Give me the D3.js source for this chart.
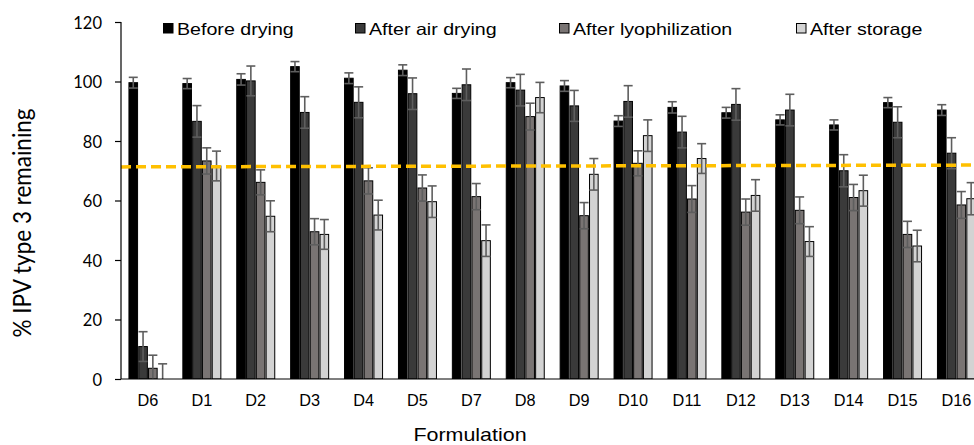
<!DOCTYPE html>
<html>
<head>
<meta charset="utf-8">
<script src="https://cdn.jsdelivr.net/npm/d3@7"></script>
<style>
  html, body { margin: 0; padding: 0; background: #fff; }
  svg { display: block; }
</style>
</head>
<body>
<svg id="chart" width="974" height="445"></svg>
<script>
// Formulations along the x axis
const categories = ["D6", "D1", "D2", "D3", "D4", "D5", "D7", "D8", "D9", "D10", "D11", "D12", "D13", "D14", "D15", "D16"];

// % IPV type 3 remaining at each stage
const beforeDrying       = [99.6, 99.3, 100.7, 105.0, 101.1, 103.8, 96.0, 99.6, 98.5, 86.7, 91.3, 89.5, 87.1, 85.4, 92.9, 90.4];
const afterAirDrying     = [10.9, 86.6, 100.2, 89.6, 93.0, 95.9, 98.9, 97.1, 91.8, 93.3, 83.0, 92.3, 90.4, 70.0, 86.3, 75.9];
const afterLyophilization = [3.6, 73.3, 66.1, 49.5, 66.6, 64.2, 61.3, 88.2, 54.9, 72.5, 60.5, 56.1, 56.7, 61.0, 48.6, 58.5];
const afterStorage       = [0, 71.6, 54.7, 48.6, 55.1, 59.6, 46.5, 94.6, 68.8, 81.8, 74.1, 61.7, 46.2, 63.3, 44.7, 60.6];

// Error bar half-widths (same units)
const errBefore  = [1.8, 1.7, 1.9, 1.7, 1.8, 1.8, 1.7, 1.7, 1.8, 1.8, 1.9, 1.8, 1.7, 1.7, 1.7, 1.8];
const errAir     = [5.0, 5.3, 5.0, 5.3, 5.2, 5.3, 5.3, 5.3, 5.2, 5.3, 5.3, 5.3, 5.3, 5.4, 5.2, 5.2];
const errLyo     = [4.4, 4.4, 4.2, 4.4, 4.4, 4.4, 4.4, 4.5, 4.4, 4.2, 4.5, 4.4, 4.5, 4.4, 4.4, 4.5];
const errStorage = [5.1, 5.0, 5.2, 5.0, 5.0, 5.3, 5.3, 5.1, 5.3, 5.3, 5.0, 5.3, 5.0, 5.2, 5.3, 5.4];

const seriesNames = ["Before drying", "After air drying", "After lyophilization", "After storage"];
const yTicks = [0, 20, 40, 60, 80, 100, 120];

// Reference threshold (dashed), value at left and right ends
const thresholdLine = [71.3, 71.9];

const seriesValues = [beforeDrying, afterAirDrying, afterLyophilization, afterStorage];
const seriesErrors = [errBefore, errAir, errLyo, errStorage];
const fills = ["#000000", "#3a3a3a", "#797473", "#d3d3d3"];

const svg = d3.select("#chart");
const plot = { left: 121, top: 22, bottom: 379, step: 53.9 };
const plotRight = plot.left + plot.step * categories.length;

const x0 = d3.scaleBand()
  .domain(categories)
  .range([plot.left, plotRight])
  .paddingInner(0.295)
  .paddingOuter(0.1475);

const x1 = d3.scaleBand()
  .domain(d3.range(4))
  .range([0, x0.bandwidth()])
  .paddingInner(0.12);

const y = d3.scaleLinear().domain([0, 120]).range([plot.bottom, plot.top]);

// clip the marks to the plotting area
svg.append("defs").append("clipPath").attr("id", "plotClip")
  .append("rect")
  .attr("x", plot.left).attr("y", 0)
  .attr("width", plotRight - plot.left).attr("height", plot.bottom);

const rows = categories.map((c, i) => ({
  cat: c,
  vals: seriesValues.map((s, k) => ({ k, v: s[i], e: seriesErrors[k][i] }))
}));

const marks = svg.append("g").attr("clip-path", "url(#plotClip)");

const groups = marks.selectAll("g.grp")
  .data(rows)
  .join("g")
  .attr("class", "grp")
  .attr("transform", d => `translate(${x0(d.cat)},0)`);

groups.selectAll("rect")
  .data(d => d.vals)
  .join("rect")
  .attr("x", d => x1(d.k))
  .attr("y", d => y(d.v))
  .attr("width", x1.bandwidth())
  .attr("height", d => y(0) - y(d.v))
  .attr("fill", d => fills[d.k])
  .attr("stroke", "#000")
  .attr("stroke-width", 1);

// error bars (both directions with caps)
const eb = groups.selectAll("g.err")
  .data(d => d.vals)
  .join("g")
  .attr("class", "err")
  .attr("stroke", "#5e5e5e")
  .attr("stroke-width", 1.6)
  .attr("fill", "none");

eb.append("line")
  .attr("x1", d => x1(d.k) + x1.bandwidth() / 2)
  .attr("x2", d => x1(d.k) + x1.bandwidth() / 2)
  .attr("y1", d => y(Math.max(0, d.v - d.e)))
  .attr("y2", d => y(d.v + d.e));
eb.append("line")
  .attr("x1", d => x1(d.k) + x1.bandwidth() / 2 - 4.5)
  .attr("x2", d => x1(d.k) + x1.bandwidth() / 2 + 4.5)
  .attr("y1", d => y(d.v + d.e))
  .attr("y2", d => y(d.v + d.e));
eb.filter(d => d.v - d.e >= 0).append("line")
  .attr("x1", d => x1(d.k) + x1.bandwidth() / 2 - 4.5)
  .attr("x2", d => x1(d.k) + x1.bandwidth() / 2 + 4.5)
  .attr("y1", d => y(d.v - d.e))
  .attr("y2", d => y(d.v - d.e));

// dashed threshold
marks.append("line")
  .attr("x1", plot.left)
  .attr("x2", plotRight)
  .attr("y1", y(thresholdLine[0]))
  .attr("y2", y(thresholdLine[0] + (thresholdLine[1] - thresholdLine[0]) * (plotRight - plot.left) / (974 - plot.left)))
  .attr("stroke", "#FFC000")
  .attr("stroke-width", 3.5)
  .attr("stroke-dasharray", "10,5");

// y axis
const yAxis = svg.append("g")
  .attr("transform", `translate(${plot.left},0)`)
  .call(d3.axisLeft(y).tickValues(yTicks).tickSize(6).tickPadding(13));
yAxis.select(".domain").attr("stroke", "#000").attr("stroke-width", 1.2)
  .attr("d", `M0,${plot.top}V${plot.bottom}`);
yAxis.selectAll(".tick line").attr("stroke", "#000").attr("stroke-width", 1.2);
yAxis.selectAll(".tick text")
  .attr("fill", "#000")
  .style("font-family", "Lato, 'Open Sans', sans-serif")
  .style("font-size", "16.5px")
  .attr("dy", "0.38em");

// x axis baseline and labels
const xAxis = svg.append("g")
  .attr("transform", `translate(0,${plot.bottom})`)
  .call(d3.axisBottom(x0).tickSize(0).tickPadding(15));
xAxis.select(".domain").attr("stroke", "#000").attr("stroke-width", 1.2)
  .attr("d", `M${plot.left},0H${plotRight}`);
xAxis.selectAll(".tick text")
  .attr("fill", "#000")
  .style("font-family", "'Liberation Sans', Arial, sans-serif")
  .style("font-size", "16.3px");

// axis titles
svg.append("text")
  .attr("transform", "translate(470,441) scale(1.16,1)")
  .attr("text-anchor", "middle")
  .style("font-family", "'Liberation Sans', Arial, sans-serif")
  .style("font-size", "18.5px")
  .attr("fill", "#000")
  .text("Formulation");

svg.append("text")
  .attr("transform", "translate(31,223) rotate(-90) scale(1,1.12)")
  .attr("text-anchor", "middle")
  .style("font-family", "Lato, 'Open Sans', sans-serif")
  .style("font-size", "22.5px")
  .attr("fill", "#000")
  .text("% IPV type 3 remaining");

// legend
const legendX = [163, 355, 559, 796];
const legend = svg.append("g");
seriesNames.forEach((name, k) => {
  legend.append("rect")
    .attr("x", legendX[k] + 0.5).attr("y", 23.5)
    .attr("width", 9.5).attr("height", 9.5)
    .attr("fill", fills[k])
    .attr("stroke", "#000").attr("stroke-width", 1);
  legend.append("text")
    .attr("transform", `translate(${legendX[k] + 14},35) scale(1.19,1)`)
    .style("font-family", "'Liberation Sans', Arial, sans-serif")
    .style("font-size", "16.5px")
    .attr("fill", "#000")
    .text(name);
});
</script>
</body>
</html>
